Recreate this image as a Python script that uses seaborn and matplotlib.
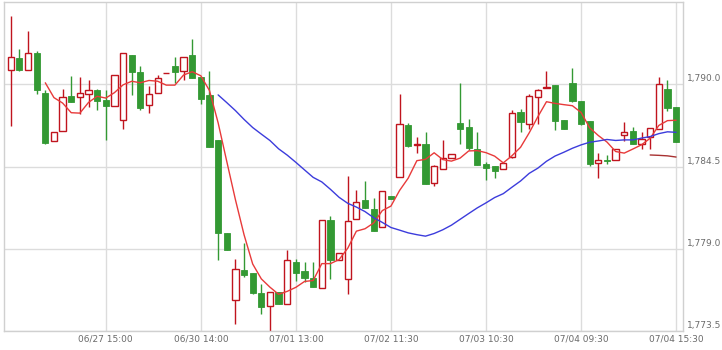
import numpy as np
import pandas as pd
import matplotlib
matplotlib.use("Agg")
import matplotlib.pyplot as plt
import matplotlib.transforms as mtransforms
from matplotlib.ticker import FuncFormatter, FixedLocator
import seaborn as sns

# ---------------- data ----------------
opens = [1790.94, 1791.74, 1791.00, 1792.08, 1789.46, 1786.20, 1786.91, 1789.26, 1789.13, 1789.33,
         1789.66, 1788.95, 1788.59, 1787.65, 1791.97, 1790.82, 1788.61, 1789.46, 1790.75, 1791.23,
         1790.87, 1791.97, 1790.47, 1789.28, 1786.31, 1780.07, 1775.60, 1777.59, 1777.39, 1776.05,
         1775.18, 1776.11, 1775.31, 1778.15, 1777.54, 1777.05, 1776.38, 1780.94, 1778.26, 1776.99,
         1781.01, 1782.28, 1781.68, 1780.45, 1782.55, 1783.83, 1787.27, 1785.97, 1786.04, 1783.42,
         1784.36, 1785.10, 1787.45, 1787.14, 1785.71, 1784.70, 1784.52, 1784.32, 1785.17, 1788.14,
         1787.38, 1789.13, 1789.75, 1789.95, 1787.61, 1790.09, 1788.88, 1787.54, 1784.77, 1784.95,
         1784.97, 1786.62, 1786.91, 1786.04, 1786.49, 1787.05, 1789.73, 1788.46]
highs = [1794.58, 1792.35, 1793.60, 1792.26, 1789.62, 1786.85, 1789.73, 1790.60, 1790.53, 1790.29,
         1789.71, 1789.62, 1790.65, 1792.08, 1791.97, 1791.25, 1789.89, 1790.65, 1790.77, 1791.81,
         1791.81, 1793.06, 1790.47, 1790.89, 1786.31, 1780.07, 1778.33, 1779.38, 1777.39, 1776.65,
         1776.11, 1776.11, 1778.89, 1778.33, 1778.10, 1778.10, 1780.94, 1781.17, 1778.73, 1783.85,
         1782.96, 1783.51, 1782.42, 1782.89, 1782.55, 1789.33, 1787.43, 1786.49, 1786.82, 1784.59,
         1786.31, 1785.37, 1790.07, 1787.72, 1786.82, 1784.81, 1784.52, 1784.77, 1788.28, 1788.39,
         1789.39, 1789.73, 1790.91, 1789.95, 1787.61, 1791.12, 1788.88, 1787.54, 1785.44, 1785.26,
         1785.71, 1787.49, 1787.16, 1786.82, 1787.07, 1790.51, 1790.33, 1788.46]
lows = [1787.20, 1790.91, 1791.00, 1789.33, 1786.04, 1786.20, 1786.91, 1788.84, 1788.05, 1788.50,
        1788.32, 1786.31, 1788.59, 1787.05, 1789.28, 1788.32, 1788.12, 1789.46, 1790.75, 1790.07,
        1790.29, 1790.44, 1788.72, 1785.82, 1778.22, 1778.89, 1773.97, 1777.14, 1775.98, 1774.64,
        1773.52, 1775.29, 1775.31, 1776.87, 1776.76, 1776.43, 1776.38, 1776.99, 1778.26, 1775.98,
        1781.01, 1781.75, 1780.18, 1780.45, 1782.33, 1783.83, 1785.82, 1785.41, 1783.34, 1783.22,
        1784.36, 1785.10, 1786.04, 1785.59, 1784.63, 1783.58, 1783.76, 1784.32, 1785.10, 1786.82,
        1787.05, 1787.34, 1789.75, 1786.98, 1787.05, 1788.81, 1787.29, 1784.54, 1783.76, 1784.65,
        1784.97, 1786.22, 1786.02, 1785.71, 1785.71, 1787.05, 1788.21, 1786.15]
closes = [1791.81, 1790.98, 1792.08, 1789.60, 1786.09, 1786.85, 1789.17, 1788.84, 1789.46, 1789.66,
          1788.92, 1788.57, 1790.65, 1792.08, 1790.85, 1788.43, 1789.33, 1790.40, 1790.77, 1790.85,
          1791.81, 1790.44, 1789.04, 1785.82, 1780.07, 1778.89, 1777.66, 1777.28, 1776.02, 1775.09,
          1776.11, 1775.29, 1778.26, 1777.37, 1777.05, 1776.43, 1780.94, 1778.26, 1778.73, 1780.83,
          1782.15, 1781.75, 1780.18, 1782.89, 1782.33, 1787.38, 1785.88, 1786.02, 1783.34, 1784.52,
          1785.10, 1785.37, 1787.02, 1785.75, 1784.63, 1784.41, 1784.21, 1784.77, 1788.12, 1787.47,
          1789.24, 1789.60, 1789.80, 1787.56, 1787.05, 1788.88, 1787.36, 1784.65, 1784.97, 1784.88,
          1785.71, 1786.82, 1786.02, 1786.38, 1787.07, 1790.00, 1788.43, 1786.15]

tick_positions = [11, 22, 33, 44, 55, 66, 77]
tick_labels = ["06/27 15:00", "06/30 14:00", "07/01 13:00", "07/02 11:30",
               "07/03 10:30", "07/04 09:30", "07/04 15:30"]
price_ticks = [1773.5, 1779.0, 1784.5, 1790.0]
ma_windows = [5, 25, 75]

# ---------------- styling ----------------
UP_COLOR = "#c0141e"
DOWN_COLOR = "#339933"
MA_COLORS = {5: "#e83a3a", 25: "#3c3cdc", 75: "#a83232"}
GRID = "#dcdcdc"
TXT = "#6b6b6b"

sns.set_style("white")
plt.rcParams["font.family"] = ["DejaVu Sans"]

df = pd.DataFrame({"open": opens, "high": highs, "low": lows, "close": closes})
df["idx"] = np.arange(len(df))
for w in ma_windows:
    df[f"ma{w}"] = df["close"].rolling(w).mean()

fig = plt.figure(figsize=(7.22, 3.5), dpi=100)
ax = fig.add_axes([4 / 722, 19 / 350, 679 / 722, 329 / 350])

width = 0.72
for i, r in df.iterrows():
    x = r["idx"]
    o, h, l, c = r["open"], r["high"], r["low"], r["close"]
    top, bot = max(o, c), min(o, c)
    if c >= o:
        ax.vlines(x, top, h, color=UP_COLOR, lw=1, zorder=2)
        ax.vlines(x, l, bot, color=UP_COLOR, lw=1, zorder=2)
        ax.bar(x, max(top - bot, 0.02), bottom=bot, width=width, facecolor="white",
               edgecolor=UP_COLOR, linewidth=1, zorder=3)
    else:
        ax.vlines(x, l, h, color=DOWN_COLOR, lw=1, zorder=2)
        ax.bar(x, max(top - bot, 0.02), bottom=bot, width=width, facecolor=DOWN_COLOR,
               edgecolor=DOWN_COLOR, linewidth=0.6, zorder=3)

for w in ma_windows:
    sub = df.dropna(subset=[f"ma{w}"])
    sns.lineplot(data=sub, x="idx", y=f"ma{w}", ax=ax, color=MA_COLORS[w], lw=1,
                 zorder=4, legend=False)

ax.set_xlim(-0.78, 77.8)
ax.set_ylim(1773.5, 1795.52)
ax.set_xlabel("")
ax.set_ylabel("")

ax.xaxis.set_major_locator(FixedLocator(tick_positions))
ax.set_xticklabels(tick_labels)
ax.yaxis.set_major_locator(FixedLocator(price_ticks))
ax.yaxis.set_major_formatter(FuncFormatter(lambda v, p: f"{v:,.1f}"))
ax.yaxis.tick_right()

ax.grid(True, color=GRID, lw=1, zorder=0)
ax.set_axisbelow(True)
ax.tick_params(axis="both", length=0, labelsize=6.5, colors=TXT)
ax.tick_params(axis="x", pad=2.5)
ax.tick_params(axis="y", pad=2.7)
for s in ax.spines.values():
    s.set_color("#d0d0d0")
    s.set_linewidth(1)

offset = mtransforms.ScaledTranslation(0, 0.066, fig.dpi_scale_trans)
for lab in ax.get_yticklabels():
    lab.set_horizontalalignment("left")
    lab.set_transform(lab.get_transform() + offset)

fig.savefig("out.png", dpi=100)
